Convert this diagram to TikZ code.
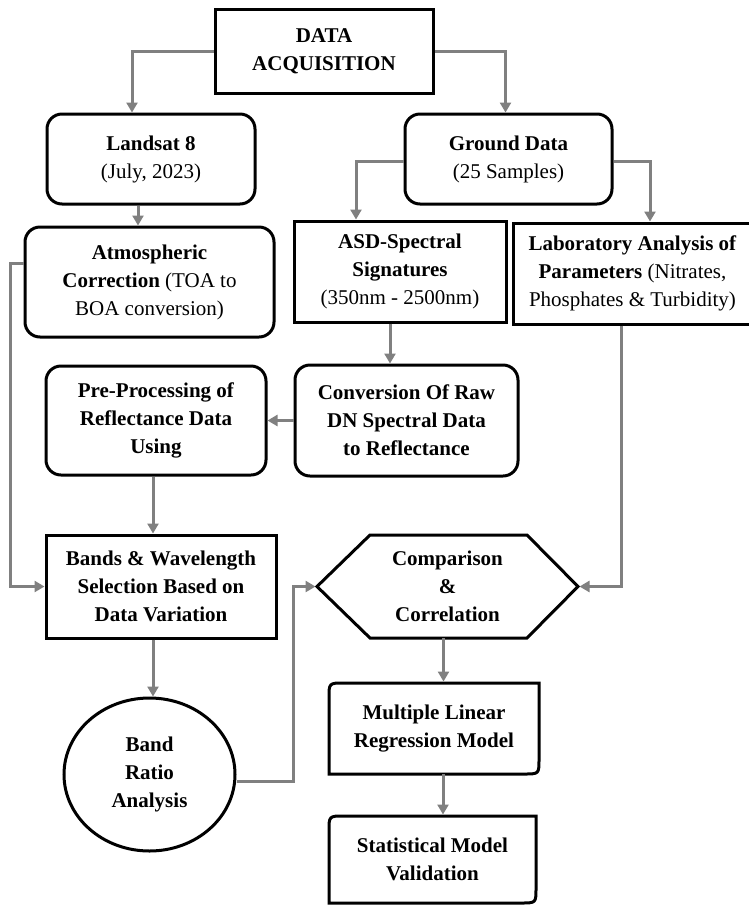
\documentclass[tikz,border=0pt]{standalone}
\usepackage{fontspec}
\setmainfont{Liberation Serif}
\usetikzlibrary{arrows.meta,shapes.geometric}
\definecolor{arrowc}{RGB}{128,128,128}
\begin{document}
\begin{tikzpicture}[x=1pt,y=-1pt,
  txt/.style={align=center,inner sep=0pt,font=\fontsize{21}{28}\selectfont},
  box/.style={txt,draw,line width=3pt},
  rbox/.style={box,rounded corners=15pt},
  arr/.style={draw=arrowc,line width=3pt,-{Triangle[length=10pt,width=11pt]}},
  outl/.style={line width=3pt}]
\useasboundingbox (0,0) rectangle (748,906);
\fill[white] (0,0) rectangle (748,906);

\node[box,minimum width=218pt,minimum height=84pt] (da) at (324,51) {\textbf{DATA}\\\textbf{ACQUISITION}};
\node[rbox,minimum width=208pt,minimum height=90pt] (land) at (151,159) {\textbf{Landsat 8}\\(July, 2023)};
\node[rbox,minimum width=207pt,minimum height=90pt] (gd) at (508.5,159) {\textbf{Ground Data}\\(25 Samples)};
\node[rbox,minimum width=249pt,minimum height=110pt] (atm) at (149.5,282) {\textbf{Atmospheric}\\\textbf{Correction} (TOA to\\BOA conversion)};
\node[box,minimum width=212pt,minimum height=101pt] (asd) at (400,271.5) {\textbf{ASD-Spectral}\\\textbf{Signatures}\\(350nm - 2500nm)};
\node[box,minimum width=239pt,minimum height=101pt] (lab) at (632.5,273.5) {\textbf{Laboratory Analysis of}\\\textbf{Parameters} (Nitrates,\\Phosphates \& Turbidity)};
\node[rbox,minimum width=220pt,minimum height=109pt] (pre) at (156,420.5) {\textbf{Pre-Processing of}\\\textbf{Reflectance Data}\\\textbf{Using}};
\node[rbox,minimum width=223pt,minimum height=111pt] (conv) at (406.5,420.5) {\textbf{Conversion Of Raw}\\\textbf{DN Spectral Data}\\\textbf{to Reflectance}};
\node[box,minimum width=230pt,minimum height=103pt] (bands) at (161,586.5) {\textbf{Bands \& Wavelength}\\\textbf{Selection Based on}\\\textbf{Data Variation}};
\node[txt,outer sep=0pt,minimum width=261pt,minimum height=103pt] (hex) at (447.5,586.5) {\textbf{Comparison}\\\textbf{\&}\\\textbf{Correlation}};
\draw[outl] (hex.west) -- ([xshift=53pt]hex.north west) -- ([xshift=-51pt]hex.north east) -- (hex.east) -- ([xshift=-51pt]hex.south east) -- ([xshift=53pt]hex.south west) -- cycle;
\node[box,ellipse,minimum width=171pt,minimum height=153pt] (ell) at (149.5,774.5) {\textbf{Band}\\\textbf{Ratio}\\\textbf{Analysis}};
\node[txt,outer sep=0pt,minimum width=210pt,minimum height=91pt] (mlr) at (434,728.5) {\textbf{Multiple Linear}\\\textbf{Regression Model}};
\draw[outl] ([yshift=-15pt]mlr.north west) .. controls (mlr.north west) .. ([xshift=15pt]mlr.north west) -- (mlr.north east) -- ([yshift=15pt]mlr.south east) .. controls (mlr.south east) .. ([xshift=-15pt]mlr.south east) -- (mlr.south west) -- cycle;
\node[txt,outer sep=0pt,minimum width=207pt,minimum height=87pt] (smv) at (432.5,859.5) {\textbf{Statistical Model}\\\textbf{Validation}};
\draw[outl] ([yshift=-15pt]smv.north west) .. controls (smv.north west) .. ([xshift=15pt]smv.north west) -- (smv.north east) -- ([yshift=15pt]smv.south east) .. controls (smv.south east) .. ([xshift=-15pt]smv.south east) -- (smv.south west) -- cycle;

\draw[arr] (da.west) -| ([xshift=-19pt]land.north);
\draw[arr] (da.east) -| ([xshift=-3pt]gd.north);
\draw[arr] ([xshift=-13pt]land.south) -- ([xshift=-13pt]land.south |- atm.north);
\draw[arr] ([yshift=-2pt]gd.west) -| ([xshift=-44pt]asd.north);
\draw[arr] ([yshift=-2pt]gd.east) -| ([xshift=17.5pt]lab.north);
\draw[arr] ([xshift=-10pt]asd.south) -- ([xshift=-10pt]asd.south |- conv.north);
\draw[arr] (conv.west) -- (pre.east);
\draw[arr] ([xshift=-3pt]pre.south) -- ([xshift=-3pt]pre.south |- bands.north);
\draw[arr] ([yshift=19pt]atm.west) -- ++(-13pt,0) |- (bands.west);
\draw[arr] ([xshift=-11.5pt]lab.south) |- ([xshift=1.5pt]hex.east);
\draw[arr] ([xshift=-8pt]bands.south) -- ([xshift=-8pt]bands.south |- ell.north);
\draw[arr] ([yshift=-7pt]ell.east) -- ++(57pt,0) |- ([xshift=-1.5pt]hex.west);
\draw[arr] ([xshift=-4pt]hex.south) -- ([xshift=-4pt,yshift=1.5pt]hex.south |- mlr.north);
\draw[arr] ([xshift=9pt]mlr.south) -- ([xshift=9pt,yshift=1.5pt]mlr.south |- smv.north);
\end{tikzpicture}
\end{document}
